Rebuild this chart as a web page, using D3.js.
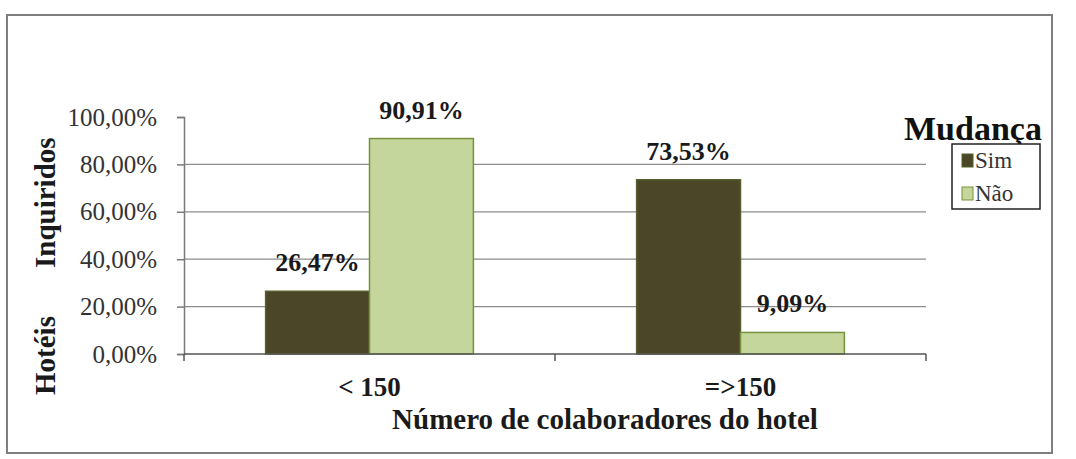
<!DOCTYPE html>
<html>
<head>
<meta charset="utf-8">
<script src="https://cdn.jsdelivr.net/npm/d3@7"></script>
<style>
  body { margin: 0; background: white; }
</style>
</head>
<body>
<svg id="chart" width="1076" height="459"></svg>
<script>
const categories = ["< 150", "=>150"];
const seriesNames = ["Sim", "Não"];
const simValues = [26.47, 73.53];
const naoValues = [90.91, 9.09];
const yTicks = [0, 20, 40, 60, 80, 100];

const serif = '"Liberation Serif", "Times New Roman", serif';
const plot = { left: 184, right: 926, top: 117, bottom: 354 };

const colors = {
  "Sim": { fill: "#4b4628", stroke: "#55602c" },
  "Não": { fill: "#c4d69b", stroke: "#76923c" },
};

const svg = d3.select("#chart").style("font-family", serif);

// Outer frame
svg.append("rect")
  .attr("x", 7)
  .attr("y", 15)
  .attr("width", 1045)
  .attr("height", 438)
  .attr("fill", "white")
  .attr("stroke", "#7f7f7f")
  .attr("stroke-width", 2);

const x = d3.scaleBand()
  .domain(categories)
  .range([plot.left, plot.right])
  .paddingInner(0.44)
  .paddingOuter(0.22);

const xSeries = d3.scaleBand()
  .domain(seriesNames)
  .range([0, x.bandwidth()]);

const y = d3.scaleLinear()
  .domain([0, 100])
  .range([plot.bottom, plot.top]);

const fmt = (v) => v.toFixed(2).replace(".", ",") + "%";

// Gridlines
svg.append("g")
  .selectAll("line")
  .data(yTicks.filter((t) => t > 0 && t < 100))
  .join("line")
  .attr("x1", plot.left)
  .attr("x2", plot.right)
  .attr("y1", (d) => y(d))
  .attr("y2", (d) => y(d))
  .attr("stroke", "#8c8c8c")
  .attr("stroke-width", 1.2);

// Y axis
const yAxis = svg.append("g")
  .attr("transform", `translate(${plot.left},0)`)
  .call(d3.axisLeft(y).tickValues(yTicks).tickSize(7).tickPadding(20).tickFormat(fmt));
yAxis.attr("font-family", null).attr("font-size", null);
yAxis.select(".domain").attr("stroke", "#7a7a7a").attr("stroke-width", 1.5);
yAxis.selectAll(".tick line").attr("stroke", "#7a7a7a").attr("stroke-width", 1.5);
yAxis.selectAll(".tick text")
  .style("font-family", serif)
  .style("font-size", "25px")
  .attr("fill", "#333");

// Bars
const rows = categories.map((c, i) => ({
  category: c,
  values: [
    { name: "Sim", value: simValues[i] },
    { name: "Não", value: naoValues[i] },
  ],
}));

const groups = svg.append("g")
  .selectAll("g")
  .data(rows)
  .join("g")
  .attr("transform", (d) => `translate(${x(d.category)},0)`);

groups.selectAll("rect")
  .data((d) => d.values)
  .join("rect")
  .attr("x", (d) => xSeries(d.name))
  .attr("y", (d) => y(d.value))
  .attr("width", xSeries.bandwidth())
  .attr("height", (d) => y(0) - y(d.value))
  .attr("fill", (d) => colors[d.name].fill)
  .attr("stroke", (d) => colors[d.name].stroke)
  .attr("stroke-width", 1.5);

// Data labels
groups.selectAll("text.label")
  .data((d) => d.values)
  .join("text")
  .attr("class", "label")
  .attr("x", (d) => xSeries(d.name) + xSeries.bandwidth() / 2)
  .attr("y", (d) => y(d.value) - 20)
  .attr("text-anchor", "middle")
  .style("font-size", "26px")
  .style("font-weight", "bold")
  .attr("fill", "#1a1a1a")
  .text((d) => fmt(d.value));

// X axis
const xAxis = svg.append("g")
  .attr("transform", `translate(0,${plot.bottom})`);
xAxis.append("line")
  .attr("x1", plot.left)
  .attr("x2", plot.right)
  .attr("stroke", "#555")
  .attr("stroke-width", 1.5);
const xBounds = [plot.left, x(categories[1]) - x.step() * x.paddingInner() / 2, plot.right];
xAxis.selectAll("line.tick")
  .data(xBounds)
  .join("line")
  .attr("class", "tick")
  .attr("x1", (d) => d)
  .attr("x2", (d) => d)
  .attr("y1", 0)
  .attr("y2", 7)
  .attr("stroke", "#555")
  .attr("stroke-width", 1.5);
xAxis.selectAll("text")
  .data(categories)
  .join("text")
  .attr("x", (d) => x(d) + x.bandwidth() / 2)
  .attr("y", 42)
  .attr("text-anchor", "middle")
  .style("font-size", "27px")
  .style("font-weight", "bold")
  .attr("fill", "#1a1a1a")
  .text((d) => d);

// Axis titles
svg.append("text")
  .attr("x", (plot.left + plot.right) / 2 + 50)
  .attr("y", 429)
  .attr("text-anchor", "middle")
  .style("font-size", "29px")
  .style("font-weight", "bold")
  .attr("fill", "#1a1a1a")
  .text("Número de colaboradores do hotel");

const yTitleParts = [
  { text: "Hotéis", pos: 395 },
  { text: "Inquiridos", pos: 268 },
];
svg.append("g")
  .selectAll("text")
  .data(yTitleParts)
  .join("text")
  .attr("transform", (d) => `translate(55,${d.pos}) rotate(-90)`)
  .style("font-size", "29px")
  .style("font-weight", "bold")
  .attr("fill", "#1a1a1a")
  .text((d) => d.text);

// Legend
svg.append("text")
  .attr("x", 904)
  .attr("y", 140)
  .style("font-size", "34px")
  .style("font-weight", "bold")
  .attr("fill", "#111")
  .text("Mudança");

svg.append("rect")
  .attr("x", 952)
  .attr("y", 144)
  .attr("width", 88)
  .attr("height", 65)
  .attr("fill", "white")
  .attr("stroke", "#222")
  .attr("stroke-width", 1.5);

const legendItems = svg.append("g")
  .selectAll("g")
  .data(seriesNames)
  .join("g")
  .attr("transform", (d, i) => `translate(962,${154 + i * 33})`);
legendItems.append("rect")
  .attr("width", 11)
  .attr("height", 13)
  .attr("fill", (d) => colors[d].fill)
  .attr("stroke", (d) => colors[d].stroke);
legendItems.append("text")
  .attr("x", 13)
  .attr("y", 14)
  .style("font-size", "23px")
  .attr("fill", "#333")
  .text((d) => d);
</script>
</body>
</html>
